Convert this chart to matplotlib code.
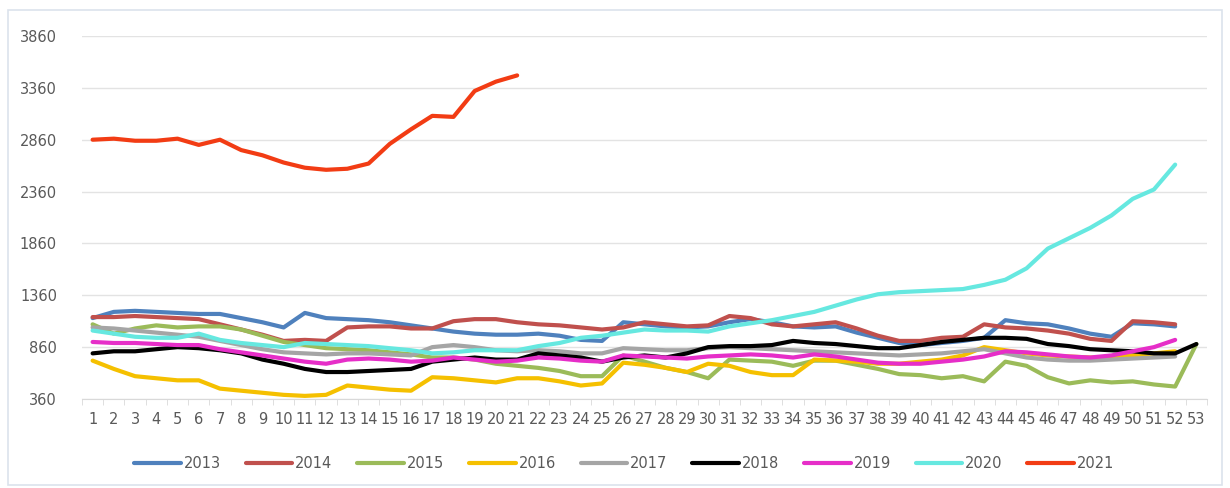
import numpy as np
import matplotlib
matplotlib.use('Agg')
import matplotlib.pyplot as plt
from matplotlib.patches import Rectangle

# weekly values
weeks = list(range(1, 54))
years = ['2013', '2014', '2015', '2016', '2017', '2018', '2019', '2020', '2021']
colors = ['#4F81BD', '#C0504D', '#9BBB59', '#F5C000', '#A5A5A5',
          '#000000', '#E62EC8', '#66E8E0', '#F23C14']

s2013 = [1140, 1200, 1210, 1200, 1190, 1180, 1180, 1140, 1100, 1050,
         1190, 1140, 1130, 1120, 1100, 1070, 1040, 1010, 990, 980,
         980, 990, 970, 930, 920, 1100, 1080, 1060, 1050, 1060,
         1100, 1130, 1100, 1060, 1050, 1060, 1000, 950, 900, 880,
         900, 920, 950, 1120, 1090, 1080, 1040, 990, 960, 1090,
         1080, 1060]
s2014 = [1150, 1150, 1160, 1150, 1140, 1130, 1080, 1030, 980, 920,
         930, 920, 1050, 1060, 1060, 1040, 1040, 1110, 1130, 1130,
         1100, 1080, 1070, 1050, 1030, 1050, 1100, 1080, 1060, 1070,
         1160, 1140, 1080, 1060, 1080, 1100, 1040, 970, 920, 920,
         950, 960, 1080, 1050, 1040, 1020, 990, 940, 920, 1110,
         1100, 1080]
s2015 = [1080, 990, 1040, 1070, 1050, 1060, 1060, 1030, 970, 910,
         880, 850, 840, 830, 810, 790, 760, 760, 740, 700,
         680, 660, 630, 580, 580, 780, 720, 660, 620, 560,
         740, 730, 720, 680, 730, 730, 690, 650, 600, 590,
         560, 580, 530, 720, 680, 570, 510, 540, 520, 530,
         500, 480, 890]
s2016 = [730, 650, 580, 560, 540, 540, 460, 440, 420, 400,
         390, 400, 490, 470, 450, 440, 570, 560, 540, 520,
         560, 560, 530, 490, 510, 710, 690, 660, 620, 700,
         680, 620, 590, 590, 740, 730, 720, 700, 700, 720,
         740, 780, 860, 830, 800, 780, 770, 760, 760, 780,
         800, 820]
s2017 = [1050, 1040, 1020, 1000, 980, 960, 920, 880, 840, 810,
         800, 790, 800, 800, 790, 780, 860, 880, 860, 830,
         820, 830, 820, 800, 800, 850, 840, 830, 830, 850,
         860, 850, 840, 830, 820, 810, 800, 790, 780, 790,
         800, 820, 840, 800, 760, 740, 730, 730, 740, 750,
         760, 770]
s2018 = [800, 820, 820, 840, 860, 850, 830, 800, 740, 700,
         650, 620, 620, 630, 640, 650, 720, 740, 760, 740,
         740, 800, 780, 760, 720, 760, 780, 760, 800, 860,
         870, 870, 880, 920, 900, 890, 870, 850, 850, 880,
         910, 930, 950, 950, 940, 890, 870, 840, 830, 820,
         800, 800, 890]
s2019 = [910, 900, 900, 890, 880, 880, 840, 810, 780, 750,
         720, 700, 740, 750, 740, 720, 730, 760, 740, 720,
         730, 760, 750, 730, 720, 780, 770, 760, 750, 770,
         780, 790, 780, 760, 790, 770, 740, 710, 700, 700,
         720, 740, 770, 820, 810, 790, 770, 760, 780, 820,
         860, 930]
s2020 = [1020, 990, 960, 950, 950, 990, 930, 900, 880, 860,
         900, 890, 880, 870, 850, 830, 800, 810, 830, 830,
         830, 870, 900, 950, 970, 1000, 1030, 1020, 1020, 1010,
         1060, 1090, 1120, 1160, 1200, 1260, 1320, 1370, 1390, 1400,
         1410, 1420, 1460, 1510, 1620, 1810, 1910, 2010, 2130, 2290,
         2380, 2620]
s2021 = [2860, 2870, 2850, 2850, 2870, 2810, 2860, 2760, 2710, 2640,
         2590, 2570, 2580, 2630, 2820, 2960, 3090, 3080, 3330, 3420,
         3480]
series = [s2013, s2014, s2015, s2016, s2017, s2018, s2019, s2020, s2021]

yticks = [360, 860, 1360, 1860, 2360, 2860, 3360, 3860]

fig = plt.figure(figsize=(12.3, 4.88), dpi=100)
fig.patches.append(Rectangle((8 / 1230, 3 / 488), 1214 / 1230, 475 / 488,
                             transform=fig.transFigure, fill=False,
                             edgecolor='#DCE3EC', linewidth=1.2))
ax = fig.add_axes([82 / 1230, 1 - 399 / 488, 1125 / 1230, 363 / 488])

for name, vals, c in zip(years, series, colors):
    ax.plot(weeks[:len(vals)], vals, color=c, linewidth=3, label=name,
            solid_joinstyle='round', solid_capstyle='round')

ax.set_xlim(0.5, 53.5)
ax.set_ylim(360, 3860)
ax.set_yticks(yticks)
ax.set_xticks(weeks)
ax.set_xticks(np.arange(0.5, 54, 1), minor=True)
ax.tick_params(axis='x', which='major', length=0, pad=9, labelsize=10.5,
               colors='#595959')
ax.tick_params(axis='x', which='minor', length=4, color='#D9D9D9')
ax.tick_params(axis='y', length=0, pad=18, labelsize=10.5, colors='#595959')
ax.grid(axis='y', color='#E3E3E3', linewidth=1)
ax.set_axisbelow(True)
for sp in ['top', 'right', 'left']:
    ax.spines[sp].set_visible(False)
ax.spines['bottom'].set_color('#D9D9D9')

ax.legend(loc='upper center', bbox_to_anchor=(0.482, -0.12), ncol=9,
          frameon=False, fontsize=10.5, handlelength=3.2, handletextpad=0.2,
          columnspacing=1.7, labelcolor='#595959')

fig.savefig('out.png', dpi=100)
